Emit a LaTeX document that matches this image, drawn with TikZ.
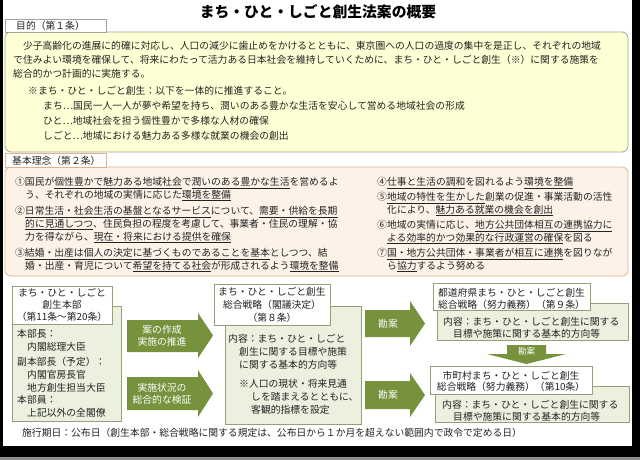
\documentclass[tikz,border=0pt]{standalone}
\usepackage{fontspec}
\setmainfont{Noto Sans CJK JP}
\definecolor{olivearrow}{RGB}{118,146,60}
\definecolor{lgreen}{RGB}{235,241,222}
\definecolor{gborder}{RGB}{150,160,120}
\definecolor{ylfill}{RGB}{255,255,213}
\definecolor{ylborder}{RGB}{165,165,150}
\definecolor{orfill}{RGB}{253,242,232}
\definecolor{orborder}{RGB}{226,178,140}
\definecolor{txt}{RGB}{35,35,35}
\definecolor{bottomgrey}{RGB}{140,140,140}
\newcommand{\fs}{\fontsize{9.8pt}{12pt}\selectfont}
\newcommand{\uln}[1]{\setbox0=\hbox{#1}\rlap{\smash{\rule[-2.3pt]{\wd0}{0.5pt}}}\box0}
\tikzset{
 t/.style={anchor=west, inner sep=0pt, text height=8.6pt, text depth=1.2pt, font=\fs, text=txt},
 tc/.style={t, anchor=center},
 wt/.style={tc, text=white},
 ybox/.style={draw=ylborder, fill=ylfill, rounded corners=6pt, line width=0.8pt},
 obox/.style={draw=orborder, fill=orfill, rounded corners=6pt, line width=0.8pt},
 ytab/.style={draw=ylborder, fill=white, line width=0.8pt},
 otab/.style={draw=orborder, fill=white, line width=0.8pt},
 gbody/.style={draw=gborder, fill=lgreen, line width=0.8pt},
 ghead/.style={draw=gborder, fill=white, line width=0.8pt},
 garrow/.style={fill=olivearrow, draw=none},
}
\begin{document}
\begin{tikzpicture}[x=1pt,y=-1pt]
\useasboundingbox (0,0) rectangle (640,460);
% frame
\fill[black] (0,0) rectangle (640,460);
\fill[white] (3,0) rectangle (632,446);
\fill[bottomgrey] (0,457) rectangle (640,460);

% title
\node[tc, font=\fontsize{14.8pt}{18pt}\selectfont\bfseries, text=black, text height=13pt, text depth=1.8pt] (title) at (318,12) {まち・ひと・しごと創生法案の概要};

% purpose box
\draw[ybox] (5,32) rectangle (628,152);
\draw[ytab] (5,19) rectangle (106,32);
\node[t] (tab1) at (16,25.5) {目的（第１条）};
\node[t] (p1) at (13,46) {　少子高齢化の進展に的確に対応し、人口の減少に歯止めをかけるとともに、東京圏への人口の過度の集中を是正し、それぞれの地域};
\node[t] (p2) at (13,60) {で住みよい環境を確保して、将来にわたって活力ある日本社会を維持していくために、まち・ひと・しごと創生（※）に関する施策を};
\node[t] (p3) at (13,74) {総合的かつ計画的に実施する。};
\node[t] (p4) at (28,91) {※まち・ひと・しごと創生：以下を一体的に推進すること。};
\node[t] (p5) at (43,106) {まち…国民一人一人が夢や希望を持ち、潤いのある豊かな生活を安心して営める地域社会の形成};
\node[t] (p6) at (43,121) {ひと…地域社会を担う個性豊かで多様な人材の確保};
\node[t] (p7) at (43,136) {しごと…地域における魅力ある多様な就業の機会の創出};

% basic principles box
\draw[obox] (5,167) rectangle (628,276);
\draw[otab] (5,153) rectangle (106,167);
\node[t] (tab2) at (12,160.5) {基本理念（第２条）};
\node[t] (l1) at (15,182) {①国民が\uln{個性豊かで魅力ある地域社会}で\uln{潤いのある豊かな生活}を営めるよ};
\node[t] (l2) at (25,194.7) {う、それぞれの地域の実情に応じた\uln{環境を整備}};
\node[t] (l3) at (15,211) {②\uln{日常生活・社会生活の基盤となるサービス}について、\uln{需要・供給を長期}};
\node[t] (l4) at (25,223.7) {\uln{的に見通しつつ}、住民負担の程度を考慮して、事業者・住民の理解・協};
\node[t] (l5) at (25,236.4) {力を得ながら、\uln{現在・将来における提供を確保}};
\node[t] (l6) at (15,253) {③\uln{結婚・出産は個人の決定に基づくものであることを基本}としつつ、結};
\node[t] (l7) at (25,265.7) {婚・出産・育児について\uln{希望を持てる社会}が形成されるよう\uln{環境を整備}};
\node[t] (r1) at (377,182) {④\uln{仕事と生活の調和}を図れるよう\uln{環境を整備}};
\node[t] (r2) at (377,197) {⑤\uln{地域の特性を生かした}創業の促進・事業活動の活性};
\node[t] (r3) at (387,209.7) {化により、\uln{魅力ある就業の機会を創出}};
\node[t] (r4) at (377,225) {⑥地域の実情に応じ、\uln{地方公共団体相互の連携協力に}};
\node[t] (r5) at (387,237.7) {\uln{よる効率的かつ効果的な行政運営の確保}を図る};
\node[t] (r6) at (377,253) {⑦\uln{国・地方公共団体・事業者が相互に連携}を図りなが};
\node[t] (r7) at (387,265.7) {ら\uln{協力}するよう努める};

% headquarters
\draw[gbody] (12,306) rectangle (121,421);
\draw[ghead] (12,286) rectangle (112,324);
\node[tc] (hq1) at (62,293) {まち・ひと・しごと};
\node[tc] (hq2) at (62,305) {創生本部};
\node[tc] (hq3) at (62,317) {（第11条～第20条）};
\node[t] (hqa) at (17,334) {本部長：};
\node[t] (hqb) at (27,347) {内閣総理大臣};
\node[t] (hqc) at (17,362) {副本部長（予定）：};
\node[t] (hqd) at (27,375) {内閣官房長官};
\node[t] (hqe) at (27,387.5) {地方創生担当大臣};
\node[t] (hqf) at (17,400) {本部員：};
\node[t] (hqg) at (27,412.5) {上記以外の全閣僚};

% left arrows
\fill[garrow] (127,320) -- (198,320) -- (198,313) -- (213,335.5) -- (198,358) -- (198,352) -- (127,352) -- cycle;
\node[wt] (a1a) at (162,330) {案の作成};
\node[wt] (a1b) at (162,342) {実施の推進};
\fill[garrow] (127,377) -- (198,377) -- (198,370) -- (213,393.5) -- (198,417) -- (198,410) -- (127,410) -- cycle;
\node[wt] (a2a) at (162,388) {実施状況の};
\node[wt] (a2b) at (162,400) {総合的な検証};

% strategy
\draw[gbody] (225,306) rectangle (361,424);
\draw[ghead] (214,284) rectangle (330,325);
\node[tc] (st1) at (272,292) {まち・ひと・しごと創生};
\node[tc] (st2) at (272,305) {総合戦略（閣議決定）};
\node[tc] (st3) at (272,318) {（第８条）};
\node[t] (sta) at (228,339) {内容：まち・ひと・しごと};
\node[t] (stb) at (239,352) {創生に関する目標や施策};
\node[t] (stc) at (239,365) {に関する基本的方向等};
\node[t] (std) at (239,384) {※人口の現状・将来見通};
\node[t] (ste) at (251,397) {しを踏まえるとともに、};
\node[t] (stf) at (251,410) {客観的指標を設定};

% kan-an arrows
\fill[garrow] (365,310) -- (410,310) -- (410,301) -- (425,323.5) -- (410,346) -- (410,337) -- (365,337) -- cycle;
\node[wt] (k1) at (388,323.5) {勘案};
\fill[garrow] (365,381) -- (410,381) -- (410,373) -- (425,395) -- (410,417) -- (410,409) -- (365,409) -- cycle;
\node[wt] (k2) at (388,395) {勘案};

% prefecture
\draw[gbody] (437,303) rectangle (628,340);
\draw[ghead] (433,283) rectangle (590,310);
\node[tc] (pf1) at (511.5,293) {都道府県まち・ひと・しごと創生};
\node[tc] (pf2) at (511.5,304.5) {総合戦略（努力義務）（第９条）};
\node[t] (pfa) at (443,322) {内容：まち・ひと・しごと創生に関する};
\node[t] (pfb) at (453,334) {目標や施策に関する基本的方向等};

% down arrow
\fill[garrow] (507,345) -- (546,345) -- (546,354) -- (566,354) -- (526.5,364) -- (487,354) -- (507,354) -- cycle;
\node[wt, font=\fontsize{8.5pt}{10pt}\selectfont] (k3) at (526.5,350.5) {勘案};

% municipality
\draw[gbody] (435,386) rectangle (629,422);
\draw[ghead] (430,366) rectangle (592,394);
\node[tc] (mu1) at (511,376) {市町村まち・ひと・しごと創生};
\node[tc] (mu2) at (511,387) {総合戦略（努力義務）（第10条）};
\node[t] (mua) at (442,405) {内容：まち・ひと・しごと創生に関する};
\node[t] (mub) at (453,417) {目標や施策に関する基本的方向等};

% footer
\node[t] (foot) at (22,433) {施行期日：公布日（創生本部・総合戦略に関する規定は、公布日から１か月を超えない範囲内で政令で定める日）};
\end{tikzpicture}
\end{document}
